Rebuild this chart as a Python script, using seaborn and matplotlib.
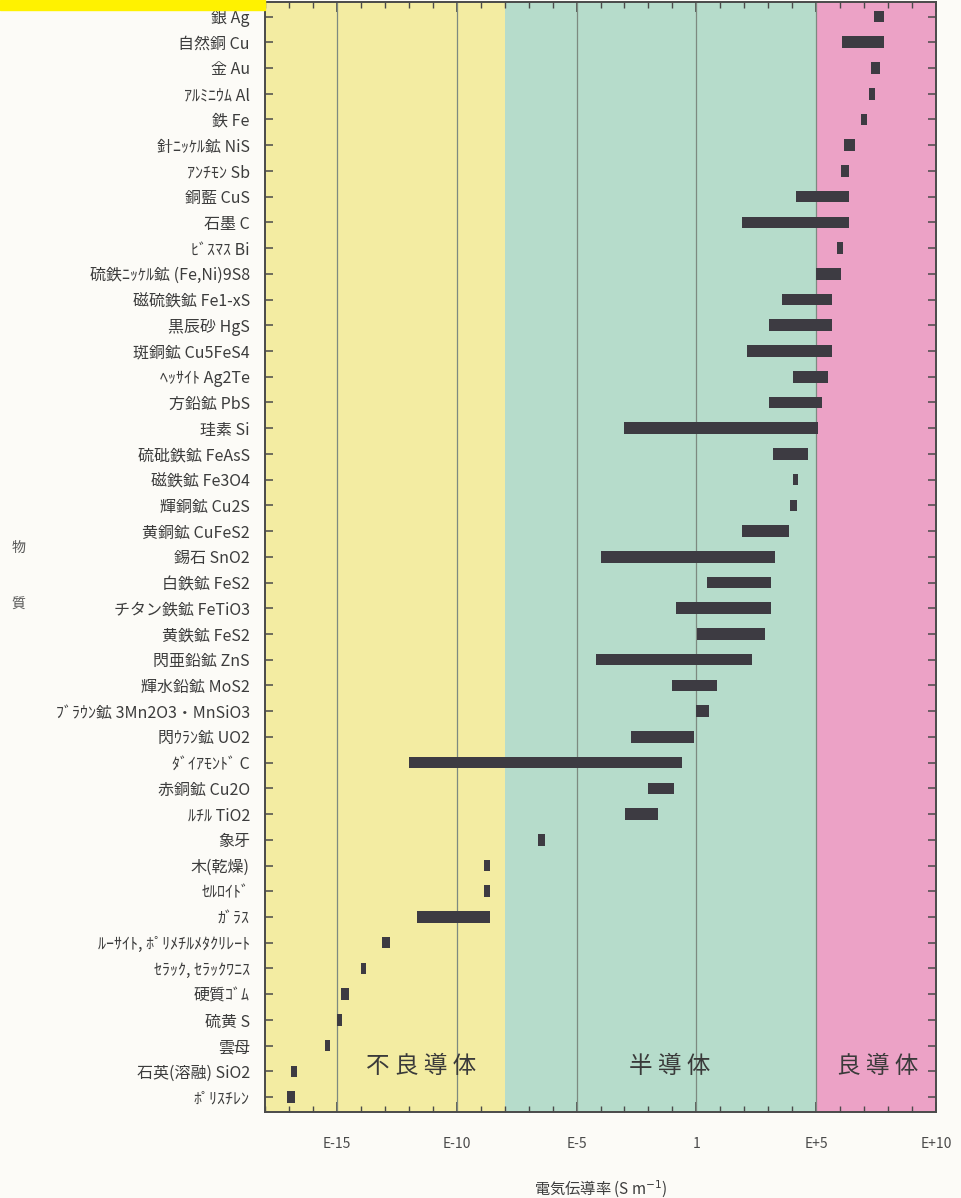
import numpy as np
import pandas as pd
import seaborn as sns
import matplotlib.pyplot as plt
from matplotlib.patches import Rectangle
from matplotlib.ticker import FixedLocator, MultipleLocator

sns.set_theme(style="ticks")
plt.rcParams['font.family'] = ['Noto Sans CJK JP', 'DejaVu Sans']

# material names, top to bottom
names = [
    "銀 Ag", "自然銅 Cu", "金 Au", "ｱﾙﾐﾆｳﾑ Al", "鉄 Fe", "針ﾆｯｹﾙ鉱 NiS",
    "ｱﾝﾁﾓﾝ Sb", "銅藍 CuS", "石墨 C", "ﾋﾞｽﾏｽ Bi", "硫鉄ﾆｯｹﾙ鉱 (Fe,Ni)9S8",
    "磁硫鉄鉱 Fe1-xS", "黒辰砂 HgS", "斑銅鉱 Cu5FeS4", "ﾍｯｻｲﾄ Ag2Te",
    "方鉛鉱 PbS", "珪素 Si", "硫砒鉄鉱 FeAsS", "磁鉄鉱 Fe3O4", "輝銅鉱 Cu2S",
    "黄銅鉱 CuFeS2", "錫石 SnO2", "白鉄鉱 FeS2", "チタン鉄鉱 FeTiO3",
    "黄鉄鉱 FeS2", "閃亜鉛鉱 ZnS", "輝水鉛鉱 MoS2", "ﾌﾞﾗｳﾝ鉱 3Mn2O3・MnSiO3",
    "閃ｳﾗﾝ鉱 UO2", "ﾀﾞｲｱﾓﾝﾄﾞ C", "赤銅鉱 Cu2O", "ﾙﾁﾙ TiO2", "象牙",
    "木(乾燥)", "ｾﾙﾛｲﾄﾞ", "ｶﾞﾗｽ", "ﾙｰｻｲﾄ, ﾎﾟﾘﾒﾁﾙﾒﾀｸﾘﾚｰﾄ", "ｾﾗｯｸ, ｾﾗｯｸﾜﾆｽ",
    "硬質ｺﾞﾑ", "硫黄 S", "雲母", "石英(溶融) SiO2", "ﾎﾟﾘｽﾁﾚﾝ",
]

# conductivity range, log10 (S/m)
log_lo = [
    7.40, 6.07, 7.28, 7.20, 6.86, 6.15, 6.03, 4.14, 1.92, 5.86, 4.98,
    3.56, 3.01, 2.13, 4.02, 3.01, -3.00, 3.18, 4.02, 3.89, 1.92, -3.97,
    0.46, -0.84, 0.04, -4.18, -1.00, 0.00, -2.72, -12.00, -2.00, -2.97,
    -6.60, -8.87, -8.87, -11.67, -13.10, -14.00, -14.85, -15.00, -15.50,
    -16.90, -17.07,
]
log_hi = [
    7.85, 7.82, 7.66, 7.45, 7.11, 6.61, 6.36, 6.36, 6.36, 6.11, 6.03,
    5.65, 5.65, 5.65, 5.48, 5.23, 5.06, 4.64, 4.23, 4.18, 3.85, 3.26,
    3.10, 3.10, 2.85, 2.34, 0.88, 0.54, -0.08, -0.59, -0.92, -1.59,
    -6.30, -8.62, -8.62, -8.62, -12.80, -13.80, -14.48, -14.77, -15.27,
    -16.65, -16.74,
]

# conductor classes
zone_edges = [-18, -8, 5, 10]
zone_names = ["不 良 導 体", "半 導 体", "良 導 体"]
zone_colors = ["#f3eca2", "#b6dccb", "#eca2c6"]
zone_label_x = [-11.5, -1.1, 7.55]

tick_pos = [-15, -10, -5, 0, 5, 10]
tick_labels = ["E-15", "E-10", "E-5", "1", "E+5", "E+10"]

df = pd.DataFrame({"name": names, "lo": log_lo, "hi": log_hi})
df["y"] = np.arange(len(df))

fig = plt.figure(figsize=(9.61, 11.98), dpi=100, facecolor="#fcfbf7")
ax = fig.add_axes([0.2758, 0.0718, 0.6982, 0.9262])

# background bands
for i in range(3):
    ax.axvspan(zone_edges[i], zone_edges[i + 1], color=zone_colors[i], zorder=0, lw=0)
    ax.text(zone_label_x[i], 40.8, zone_names[i], ha="center", va="center",
            fontsize=17, color="#3a3a3a", zorder=3)

for x in tick_pos[:-1]:
    ax.axvline(x, color="#7d8a80", lw=0.9, zorder=1)

ax.barh(df["y"], df["hi"] - df["lo"], left=df["lo"], height=0.45,
        color="#3d3b42", edgecolor="none", linewidth=0, zorder=2)

ax.set_xlim(-18, 10)
ax.set_ylim(len(df) - 0.42, -0.55)
ax.set_yticks(df["y"])
ax.set_yticklabels(df["name"], fontsize=11.5, color="#3c3c3c")
ax.xaxis.set_major_locator(FixedLocator(tick_pos))
ax.xaxis.set_minor_locator(MultipleLocator(1))
ax.set_xticklabels(tick_labels, fontsize=10, color="#4a4a4a")
ax.tick_params(axis="x", which="major", direction="in", length=7, width=1.2,
               top=True, pad=18, color="#4a4a4a")
ax.tick_params(axis="x", which="minor", direction="in", length=4, width=1,
               top=True, color="#4a4a4a")
ax.tick_params(axis="y", direction="in", length=6, width=1.1, right=True,
               pad=11, color="#4a4a4a")
for s in ax.spines.values():
    s.set_color("#4a4a4a")
    s.set_linewidth(1.4)

ax.set_xlabel("電気伝導率 (S m$^{-1}$)", fontsize=11, color="#3c3c3c", labelpad=20)
fig.text(0.019, 1 - 548 / 1198, "物", fontsize=10, color="#555555",
         ha="center", va="center")
fig.text(0.019, 1 - 605 / 1198, "質", fontsize=10, color="#555555",
         ha="center", va="center")

# yellow marker strip at the top left
fig.patches.append(Rectangle((0, 0.992), 0.2758, 0.008, transform=fig.transFigure,
                             color="#fff200", zorder=5))

fig.savefig("out.png", dpi=100, facecolor=fig.get_facecolor())
